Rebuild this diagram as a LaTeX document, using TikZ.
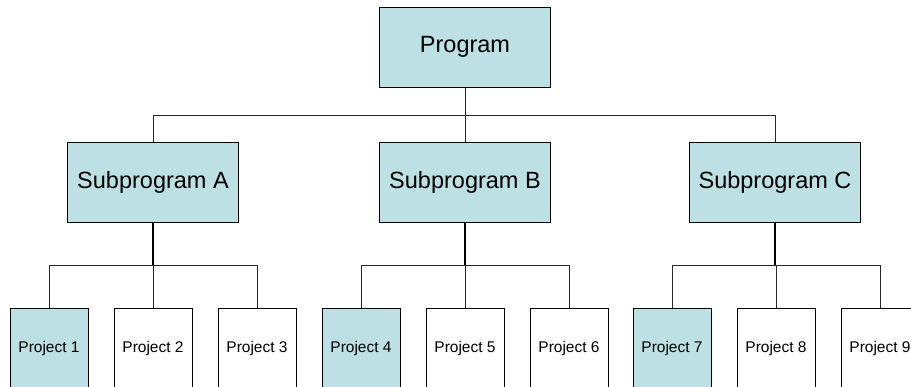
\documentclass[tikz,border=0pt]{standalone}
\usepackage{fontspec}
\setmainfont{Liberation Sans}
\definecolor{boxblue}{RGB}{188,224,227}
\definecolor{linegray}{RGB}{40,40,40}
\tikzset{
  big/.style={draw=black, line width=1pt, rectangle, inner sep=0pt, minimum width=171pt, minimum height=80pt, fill=boxblue, font=\fontsize{23.5}{28}\selectfont},
  proj/.style={draw=black, line width=1pt, rectangle, inner sep=0pt, minimum width=78pt, minimum height=80pt, fill=white, font=\fontsize{15.5}{18}\selectfont},
  hl/.style={fill=boxblue},
  conn/.style={draw=linegray, line width=1pt},
  thick conn/.style={draw=black, line width=1.8pt}
}
\begin{document}
\begin{tikzpicture}[x=1pt,y=-1pt]
\clip (0,0) rectangle (911,386);
\fill[white] (0,0) rectangle (911,386);
\node[big] (prog) at (465,47) {Program};
\node[big] (sa) at (153,182) {Subprogram A};
\node[big] (sb) at (465,182) {Subprogram B};
\node[big] (sc) at (775,182) {Subprogram C};
\node[proj,hl] (p1) at (49,348) {Project 1};
\node[proj] (p2) at (153,348) {Project 2};
\node[proj] (p3) at (257,348) {Project 3};
\node[proj,hl] (p4) at (361,348) {Project 4};
\node[proj] (p5) at (465,348) {Project 5};
\node[proj] (p6) at (569,348) {Project 6};
\node[proj,hl] (p7) at (672,348) {Project 7};
\node[proj] (p8) at (776,348) {Project 8};
\node[proj] (p9) at (880,348) {Project 9};
\coordinate (top) at (465,115);
\coordinate (low) at (465,265);
\draw[conn] (prog.south) -- (prog.south |- top);
\draw[conn] (sa.north) -- (sa.north |- top) -- (sc.north |- top) -- (sc.north);
\draw[conn] (sb.north) -- (sb.north |- top);
\foreach \s/\a/\b/\c in {sa/p1/p2/p3, sb/p4/p5/p6, sc/p7/p8/p9}{
  \draw[thick conn] (\s.south) -- (\s.south |- low);
  \draw[conn] (\a.north) -- (\a.north |- low) -- (\c.north |- low) -- (\c.north);
  \draw[conn] (\b.north) -- (\b.north |- low);
}
\end{tikzpicture}
\end{document}
